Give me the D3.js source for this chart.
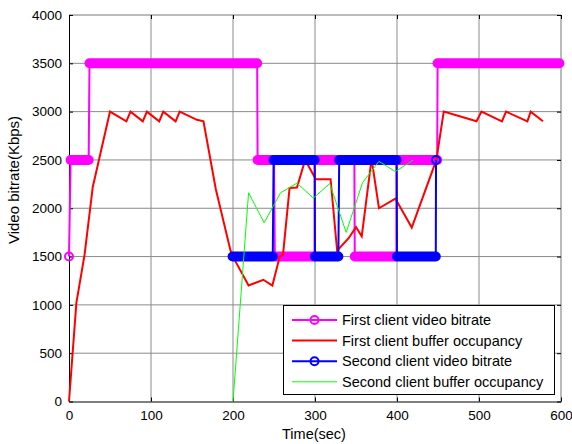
<!DOCTYPE html>
<html>
<head>
<meta charset="utf-8">
<script src="https://cdn.jsdelivr.net/npm/d3@7"></script>
<style>
  html, body { margin: 0; padding: 0; background: #fff; }
  svg { display: block; font-family: "Liberation Sans", Arial, sans-serif; }
</style>
</head>
<body>
<svg id="chart" width="572" height="444"></svg>
<script>
// ---------- data ----------
const xTicks = [0, 100, 200, 300, 400, 500, 600];
const yTicks = [0, 500, 1000, 1500, 2000, 2500, 3000, 3500, 4000];

// First client video bitrate: step segments (start time, end time, bitrate)
const firstBitrateStart = [0, 2, 25, 230, 251, 300, 348.5, 399.6, 449.5];
const firstBitrateEnd   = [0, 24, 229.5, 250, 299.5, 348, 399.3, 449, 598];
const firstBitrateValue = [1500, 2500, 3500, 2500, 1500, 2500, 1500, 2500, 3500];

// First client buffer occupancy
const firstBufferTime  = [0, 9, 19, 29, 50, 70, 75, 90, 95, 110, 115, 130, 135, 156, 164, 179, 197, 203, 219, 237, 248, 257, 261, 269, 278, 288, 301, 319, 327, 341, 350, 357, 369, 378, 398, 418, 448, 457, 497, 503, 528, 533, 559, 563, 578];
const firstBufferValue = [0, 1020, 1520, 2220, 3000, 2900, 3000, 2900, 3000, 2900, 3000, 2900, 3000, 2915, 2900, 2200, 1560, 1450, 1200, 1260, 1200, 1500, 1520, 2210, 2215, 2500, 2300, 2300, 1560, 1690, 1805, 1710, 2510, 2000, 2100, 1800, 2500, 3000, 2900, 3000, 2900, 3000, 2900, 3000, 2900];

// Second client video bitrate: step segments
const secondBitrateStart = [199.5, 249.5, 300, 329.5, 400, 447.6];
const secondBitrateEnd   = [248.5, 299.5, 328.5, 399.5, 447.3, 447.6];
const secondBitrateValue = [1500, 2500, 1500, 2500, 1500, 2500];

// Second client buffer occupancy
const secondBufferTime  = [200, 219, 238, 258, 278, 298, 318, 338, 358, 378, 398, 420];
const secondBufferValue = [0, 2160, 1850, 2160, 2260, 2105, 2255, 1750, 2265, 2485, 2380, 2500];

const legendLabels = ["First client video bitrate", "First client buffer occupancy", "Second client video bitrate", "Second client buffer occupancy"];

// ---------- layout ----------
const svg = d3.select("#chart");
const x = d3.scaleLinear().domain([0, 600]).range([69, 561]);
const y = d3.scaleLinear().domain([0, 4000]).range([401.5, 15]);
const [x0, x1] = x.range();
const [y0, y1] = y.range();

// grid
const grid = svg.append("g");
grid.selectAll("line.gx").data(xTicks.slice(1, -1)).join("line")
  .attr("x1", d => x(d)).attr("x2", d => x(d)).attr("y1", y0).attr("y2", y1)
  .attr("stroke", "#8a8a8a").attr("stroke-width", 1);
grid.selectAll("line.gy").data(yTicks.slice(1, -1)).join("line")
  .attr("x1", x0).attr("x2", x1).attr("y1", d => y(d)).attr("y2", d => y(d))
  .attr("stroke", "#8a8a8a").attr("stroke-width", 1);

// box top/right
svg.append("line").attr("x1", x0).attr("x2", x1).attr("y1", y1).attr("y2", y1).attr("stroke", "#777");
svg.append("line").attr("x1", x1).attr("x2", x1).attr("y1", y0).attr("y2", y1).attr("stroke", "#777");

// axes
const fmt = d3.format("d");
const xAxis = d3.axisBottom(x).tickValues(xTicks).tickFormat(fmt).tickSizeInner(-4).tickSizeOuter(0).tickPadding(9);
const yAxis = d3.axisLeft(y).tickValues(yTicks).tickFormat(fmt).tickSizeInner(-4).tickSizeOuter(0).tickPadding(7);
const gx = svg.append("g").attr("transform", `translate(0,${y0})`).call(xAxis);
const gy = svg.append("g").attr("transform", `translate(${x0},0)`).call(yAxis);
[gx, gy].forEach(g => {
  g.select(".domain").attr("stroke", "#000").attr("stroke-width", 1);
  g.selectAll(".tick line").attr("stroke", "#000");
  g.selectAll(".tick text").attr("fill", "#000").attr("font-size", 13.5)
    .attr("font-family", "'Liberation Sans', Arial, sans-serif");
});
// ticks on top and right
const gxTop = svg.append("g").attr("transform", `translate(0,${y1})`)
  .call(d3.axisTop(x).tickValues(xTicks).tickSizeInner(-4).tickSizeOuter(0).tickFormat(""));
const gyRight = svg.append("g").attr("transform", `translate(${x1},0)`)
  .call(d3.axisRight(y).tickValues(yTicks).tickSizeInner(-4).tickSizeOuter(0).tickFormat(""));
[gxTop, gyRight].forEach(g => {
  g.select(".domain").remove();
  g.selectAll(".tick line").attr("stroke", "#000");
});

// axis titles
svg.append("text").attr("x", 314).attr("y", 439).attr("text-anchor", "middle")
  .attr("font-size", 14.5).attr("fill", "#000").text("Time(sec)");
svg.append("text").attr("transform", "translate(19,180) rotate(-90)").attr("text-anchor", "middle")
  .attr("font-size", 15).attr("fill", "#000").text("Video bitrate(Kbps)");

// ---------- series ----------
const line = d3.line().x(d => x(d[0])).y(d => y(d[1]));

function stepSeries(starts, ends, values, color) {
  const segs = starts.map((s, i) => ({ s, e: ends[i], v: values[i] }));
  const pts = segs.flatMap(d => [[d.s, d.v], [d.e, d.v]]);
  const g = svg.append("g");
  g.append("path").attr("d", line(pts)).attr("fill", "none")
    .attr("stroke", color).attr("stroke-width", 2);
  // dense circle markers appear as a solid rounded band
  g.selectAll("path.band").data(segs.filter(d => d.e > d.s)).join("path")
    .attr("d", d => line([[d.s, d.v], [d.e, d.v]]))
    .attr("fill", "none").attr("stroke", color).attr("stroke-width", 10).attr("stroke-linecap", "round");
  g.selectAll("circle").data(segs.filter(d => d.e === d.s)).join("circle")
    .attr("cx", d => x(d.s)).attr("cy", d => y(d.v)).attr("r", 4)
    .attr("fill", "none").attr("stroke", color).attr("stroke-width", 2);
}

function bufferSeries(times, values, color, width) {
  svg.append("path").attr("d", line(times.map((t, i) => [t, values[i]])))
    .attr("fill", "none").attr("stroke", color).attr("stroke-width", width)
    .attr("stroke-linejoin", "miter");
}

stepSeries(firstBitrateStart, firstBitrateEnd, firstBitrateValue, "#ff00ff");
bufferSeries(firstBufferTime, firstBufferValue, "#ff0000", 2);
stepSeries(secondBitrateStart, secondBitrateEnd, secondBitrateValue, "#0000ff");
bufferSeries(secondBufferTime, secondBufferValue, "#00ff00", 1);

// ---------- legend ----------
const legendColors = ["#ff00ff", "#ff0000", "#0000ff", "#00ff00"];
const legendMarker = [true, false, true, false];
const legendWidths = [2, 2, 2, 1];
const lg = svg.append("g");
lg.append("rect").attr("x", 283.5).attr("y", 305.5).attr("width", 271).attr("height", 89)
  .attr("fill", "#fff").attr("stroke", "#000").attr("stroke-width", 1);
legendLabels.forEach((label, i) => {
  const cy = 320 + i * 20.6;
  lg.append("line").attr("x1", 292).attr("x2", 337).attr("y1", cy).attr("y2", cy)
    .attr("stroke", legendColors[i]).attr("stroke-width", legendWidths[i]);
  if (legendMarker[i]) {
    lg.append("circle").attr("cx", 314.5).attr("cy", cy).attr("r", 4)
      .attr("fill", "none").attr("stroke", legendColors[i]).attr("stroke-width", 2);
  }
  lg.append("text").attr("x", 342).attr("y", cy).attr("dy", "0.35em")
    .attr("font-size", 14.5).attr("fill", "#000").text(label);
});
</script>
</body>
</html>
